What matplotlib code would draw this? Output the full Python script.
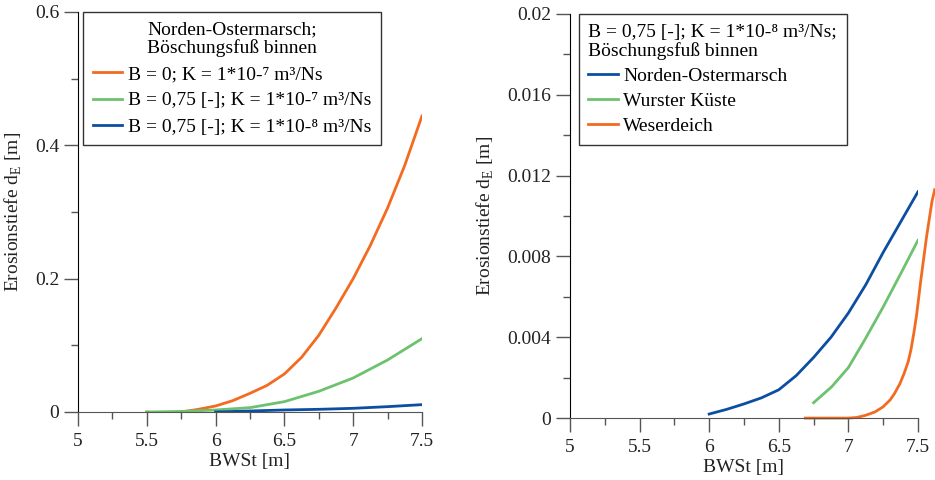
import matplotlib
matplotlib.use("Agg")
import matplotlib.pyplot as plt
from matplotlib.ticker import MultipleLocator, FuncFormatter

plt.rcParams['font.family'] = ['Liberation Serif', 'DejaVu Serif']
plt.rcParams['mathtext.fontset'] = 'custom'
plt.rcParams['mathtext.rm'] = 'Liberation Serif'
plt.rcParams['font.size'] = 14

# left chart: Norden-Ostermarsch, different B/K
x_b0_k7 = [5.5, 5.6, 5.75, 5.875, 6.0, 6.125, 6.25, 6.375, 6.5, 6.625, 6.75, 6.875,
           7.0, 7.125, 7.25, 7.375, 7.5]
y_b0_k7 = [0.0, -0.002, 0.0, 0.004, 0.009, 0.017, 0.028, 0.04, 0.057, 0.082, 0.115,
           0.156, 0.2, 0.25, 0.306, 0.37, 0.444]
x_b75_k7 = [5.5, 5.75, 6.0, 6.25, 6.5, 6.75, 7.0, 7.25, 7.5]
y_b75_k7 = [0.0, 0.0008, 0.003, 0.0065, 0.0155, 0.031, 0.051, 0.078, 0.11]
x_b75_k8 = [6.0, 6.25, 6.5, 6.75, 7.0, 7.25, 7.5]
y_b75_k8 = [0.0, 0.0015, 0.003, 0.004, 0.0055, 0.008, 0.011]

# right chart: B = 0,75; K = 1e-8, three sites
x_norden = [6.0, 6.125, 6.25, 6.375, 6.5, 6.625, 6.75, 6.875, 7.0, 7.125, 7.25, 7.375, 7.5]
y_norden = [0.0002, 0.00043, 0.0007, 0.001, 0.0014, 0.0021, 0.003, 0.004, 0.0052,
            0.0066, 0.0082, 0.0097, 0.0112]
x_wurster = [6.75, 6.88, 7.0, 7.12, 7.25, 7.38, 7.5]
y_wurster = [0.00076, 0.00155, 0.0025, 0.0039, 0.0055, 0.0072, 0.0088]
x_weser = [6.69, 6.85, 7.0, 7.06, 7.12, 7.19, 7.25, 7.3, 7.33, 7.37, 7.4, 7.43,
           7.45, 7.47, 7.49, 7.52, 7.56, 7.6, 7.62]
y_weser = [0.0, 0.0, 0.0, 0.00003, 0.00013, 0.0003, 0.00056, 0.0009, 0.0012, 0.0017,
           0.0022, 0.0028, 0.0034, 0.0042, 0.0051, 0.0068, 0.0089, 0.0107, 0.0113]

orange = '#F26B21'
green = '#6CC26F'
blue = '#0B4EA2'

ylabel = r'Erosionstiefe d$_\mathregular{E}$ [m]'

fig = plt.figure(figsize=(9.35, 4.8), dpi=100)
ax1 = fig.add_axes([0.0834, 0.1417, 0.3679, 0.8333])
ax2 = fig.add_axes([0.6096, 0.129, 0.3722, 0.842])

lw = 2.0
ax1.plot(x_b0_k7, y_b0_k7, color=orange, lw=lw, label='B = 0; K = 1*10-⁷ m³/Ns')
ax1.plot(x_b75_k7, y_b75_k7, color=green, lw=lw, label='B = 0,75 [-]; K = 1*10-⁷ m³/Ns')
ax1.plot(x_b75_k8, y_b75_k8, color=blue, lw=lw, label='B = 0,75 [-]; K = 1*10-⁸ m³/Ns')
ax1.set_xlim(5, 7.5)
ax1.set_ylim(0, 0.6)
ax1.yaxis.set_major_locator(MultipleLocator(0.2))
ax1.yaxis.set_minor_locator(MultipleLocator(0.1))

ax2.plot(x_norden, y_norden, color=blue, lw=lw, label='Norden-Ostermarsch')
ax2.plot(x_wurster, y_wurster, color=green, lw=lw, label='Wurster Küste')
ax2.plot(x_weser, y_weser, color=orange, lw=lw, label='Weserdeich', clip_on=False)
ax2.set_xlim(5, 7.5)
ax2.set_ylim(0, 0.02)
ax2.yaxis.set_major_locator(MultipleLocator(0.004))
ax2.yaxis.set_minor_locator(MultipleLocator(0.002))

fmt = FuncFormatter(lambda v, p: '%g' % round(v, 6))
for ax in (ax1, ax2):
    ax.xaxis.set_major_locator(MultipleLocator(0.5))
    ax.xaxis.set_minor_locator(MultipleLocator(0.25))
    ax.xaxis.set_major_formatter(fmt)
    ax.yaxis.set_major_formatter(fmt)
    ax.spines['top'].set_visible(False)
    ax.spines['right'].set_visible(False)
    ax.spines['left'].set_color('black')
    ax.spines['bottom'].set_color('#555555')
    ax.tick_params(which='major', direction='out', length=10, width=1, colors='#555555',
                   labelcolor='#222222', labelsize=14)
    ax.tick_params(axis='x', which='major', pad=5)
    ax.tick_params(which='minor', direction='out', length=5, width=1, colors='#555555')
    ax.set_xlabel('BWSt [m]', fontsize=14, labelpad=2, color='#222222')
    ax.set_ylabel(ylabel, fontsize=14, labelpad=8, color='#222222')

leg1 = ax1.legend(title='Norden-Ostermarsch;\nBöschungsfuß binnen', loc='upper left',
                  bbox_to_anchor=(0.015, 1.0), borderaxespad=0, fontsize=14,
                  title_fontsize=14, fancybox=False, edgecolor='#333333',
                  framealpha=1, handlelength=1.5, handletextpad=0.3,
                  labelspacing=0.45, borderpad=0.5)
leg1.get_title().set_linespacing(1.0)
leg1.get_frame().set_linewidth(1.0)

leg2 = ax2.legend(title='B = 0,75 [-]; K = 1*10-⁸ m³/Ns;\nBöschungsfuß binnen',
                  loc='upper left', bbox_to_anchor=(0.025, 1.0), borderaxespad=0,
                  fontsize=14, title_fontsize=14, fancybox=False, edgecolor='#333333',
                  framealpha=1, handlelength=1.5, handletextpad=0.3,
                  labelspacing=0.38, borderpad=0.5, alignment='left')
leg2.get_title().set_linespacing(1.1)
leg2.get_frame().set_linewidth(1.0)

fig.savefig('out.png', dpi=100)
